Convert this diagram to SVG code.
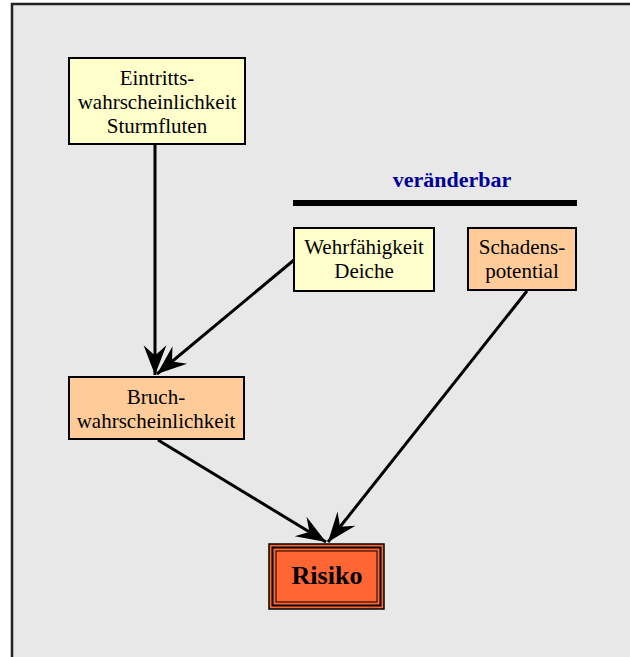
<svg xmlns="http://www.w3.org/2000/svg" width="630" height="657" viewBox="0 0 630 657">
<style>
.box{stroke:#000;stroke-width:2}
.t{font-family:"Liberation Serif","Times New Roman",serif;font-size:21px;fill:#000;text-anchor:middle}
.c{stroke:#000;stroke-width:3;fill:none;marker-end:url(#ah)}
</style>
<defs>
<marker id="ah" markerUnits="userSpaceOnUse" markerWidth="40" markerHeight="40" viewBox="-30 -15 35 30" refX="0" refY="0" orient="auto">
<path d="M0,0 L-26,-10 L-17,0 L-26,10 Z" fill="#000"/>
</marker>
</defs>
<rect x="0" y="0" width="630" height="657" fill="#fff"/>
<rect x="12" y="4" width="630" height="670" fill="#e8e8e8" stroke="#222" stroke-width="2.5"/>
<g id="connectors">
<line class="c" x1="155" y1="145" x2="155" y2="375"/>
<line class="c" x1="294" y1="260" x2="157" y2="374"/>
<line class="c" x1="158" y1="440" x2="326" y2="542"/>
<line class="c" x1="527" y1="291" x2="328" y2="542"/>
</g>
<g id="eintritt">
<rect class="box" x="69" y="58" width="176" height="86" fill="#ffffcc"/>
<text class="t" x="157" y="85">Eintritts-</text>
<text class="t" x="157" y="109">wahrscheinlichkeit</text>
<text class="t" x="157" y="133">Sturmfluten</text>
</g>
<g id="veraenderbar">
<text x="452" y="187" font-family="Liberation Serif,'Times New Roman',serif" font-size="22" font-weight="bold" fill="#000099" text-anchor="middle">veränderbar</text>
<rect x="293" y="200" width="284" height="6" fill="#000"/>
</g>
<g id="wehr">
<rect class="box" x="294" y="228" width="140" height="63" fill="#ffffcc"/>
<text class="t" x="364" y="254">Wehrfähigkeit</text>
<text class="t" x="364" y="278">Deiche</text>
</g>
<g id="schaden">
<rect class="box" x="468" y="228" width="108" height="62" fill="#ffcc99"/>
<text class="t" x="522" y="254">Schadens-</text>
<text class="t" x="522" y="278">potential</text>
</g>
<g id="bruch">
<rect class="box" x="69" y="377" width="175" height="62" fill="#ffcc99"/>
<text class="t" x="156" y="404">Bruch-</text>
<text class="t" x="156" y="428">wahrscheinlichkeit</text>
</g>
<g id="risiko">
<rect x="269" y="544" width="115" height="65" fill="#ff6633" stroke="#000" stroke-width="1.5"/>
<rect x="272.5" y="547.5" width="108" height="58" fill="none" stroke="#000" stroke-width="2"/>
<rect x="276" y="551" width="101" height="51" fill="none" stroke="#000" stroke-width="1"/>
<text x="327" y="584" font-family="Liberation Serif,'Times New Roman',serif" font-size="26" font-weight="bold" text-anchor="middle">Risiko</text>
</g>
</svg>
